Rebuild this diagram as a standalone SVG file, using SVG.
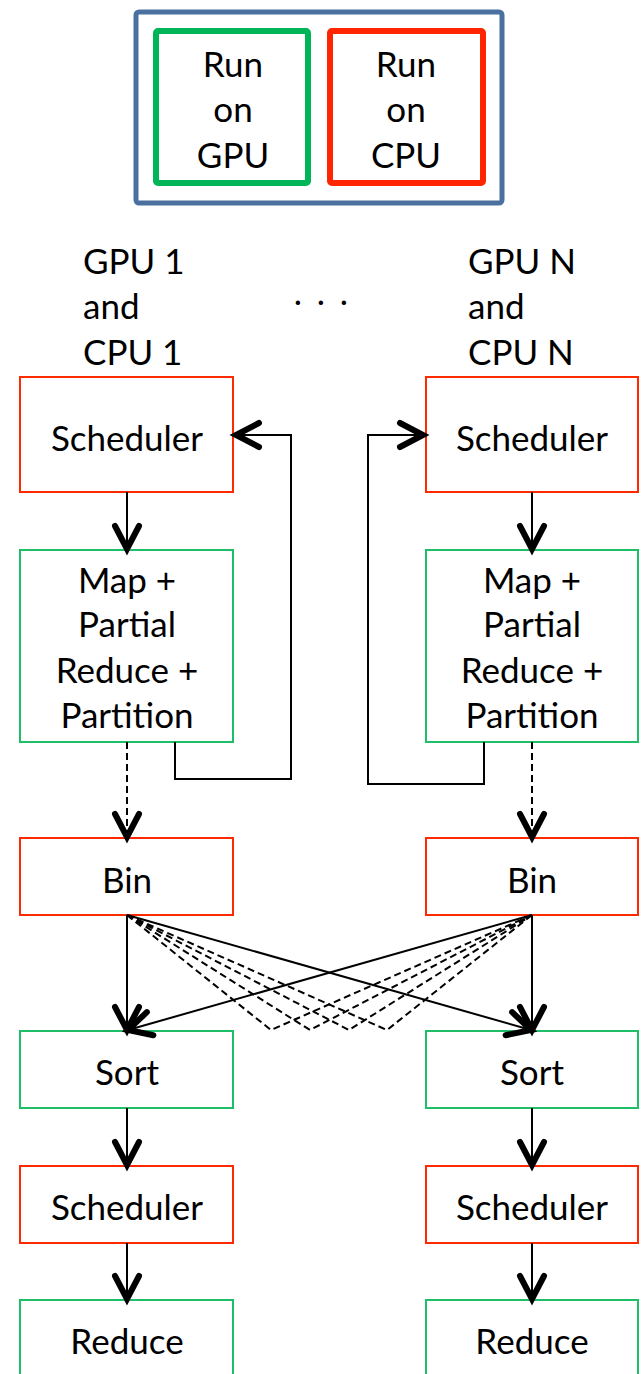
<svg xmlns="http://www.w3.org/2000/svg" width="642" height="1374" viewBox="0 0 642 1374">
  <style>
    text { font-family: Lato, "Liberation Sans", sans-serif; font-size: 35px; fill: #000; }
    .c { text-anchor: middle; }
    .cpu { fill: #fff; stroke: #ff2a00; stroke-width: 2; }
    .gpu { fill: #fff; stroke: #1fbf6a; stroke-width: 2; }
    .line { fill: none; stroke: #000; stroke-width: 2; }
    .dash { fill: none; stroke: #000; stroke-width: 2; stroke-dasharray: 7 4; }
  </style>
  <defs>
    <marker id="head" markerUnits="userSpaceOnUse" viewBox="-30 -16 34 32" refX="0" refY="0" markerWidth="34" markerHeight="32" orient="auto" overflow="visible">
      <path d="M -23 -12 L 0 0 L -23 12" fill="none" stroke="#000" stroke-width="6" stroke-linecap="round" stroke-linejoin="miter"/>
    </marker>
  </defs>

  <rect width="642" height="1374" fill="#fff"/>

  <!-- legend -->
  <g id="legend">
    <rect x="136" y="12" width="366" height="191" rx="3" fill="#fff" stroke="#4a70a0" stroke-width="5"/>
    <rect x="156" y="31" width="152" height="152" rx="2" fill="none" stroke="#00b558" stroke-width="6"/>
    <rect x="330" y="31" width="153" height="152" rx="2" fill="none" stroke="#ff2500" stroke-width="6"/>
    <text class="c" x="233" y="77">Run</text>
    <text class="c" x="233" y="122">on</text>
    <text class="c" x="233" y="168">GPU</text>
    <text class="c" x="406" y="77">Run</text>
    <text class="c" x="406" y="122">on</text>
    <text class="c" x="406" y="168">CPU</text>
  </g>

  <!-- column headings -->
  <g id="label-1">
    <text x="83" y="274">GPU 1</text>
    <text x="83" y="319">and</text>
    <text x="83" y="365">CPU 1</text>
  </g>
  <g id="label-n">
    <text x="468" y="274">GPU N</text>
    <text x="468" y="319">and</text>
    <text x="468" y="365">CPU N</text>
  </g>
  <g id="ellipsis">
    <text class="c" x="298 321 344" y="305">...</text>
  </g>

  <!-- left column -->
  <g id="sched1-1"><rect class="cpu" x="20" y="377" width="213" height="115"/><text class="c" x="127" y="451">Scheduler</text></g>
  <g id="map-1"><rect class="gpu" x="20" y="550" width="213" height="192"/>
    <text class="c" x="127" y="593">Map +</text>
    <text class="c" x="127" y="637">Partial</text>
    <text class="c" x="127" y="683">Reduce +</text>
    <text class="c" x="127" y="728">Partition</text>
  </g>
  <g id="bin-1"><rect class="cpu" x="20" y="838" width="213" height="77"/><text class="c" x="127" y="893">Bin</text></g>
  <g id="sort-1"><rect class="gpu" x="20" y="1031" width="213" height="77"/><text class="c" x="127" y="1085">Sort</text></g>
  <g id="sched2-1"><rect class="cpu" x="20" y="1166" width="213" height="77"/><text class="c" x="127" y="1220">Scheduler</text></g>
  <g id="reduce-1"><rect class="gpu" x="20" y="1300" width="213" height="90"/><text class="c" x="127" y="1354">Reduce</text></g>

  <!-- right column -->
  <g id="sched1-n"><rect class="cpu" x="426" y="377" width="212" height="115"/><text class="c" x="532" y="451">Scheduler</text></g>
  <g id="map-n"><rect class="gpu" x="426" y="550" width="212" height="192"/>
    <text class="c" x="532" y="593">Map +</text>
    <text class="c" x="532" y="637">Partial</text>
    <text class="c" x="532" y="683">Reduce +</text>
    <text class="c" x="532" y="728">Partition</text>
  </g>
  <g id="bin-n"><rect class="cpu" x="426" y="838" width="212" height="77"/><text class="c" x="532" y="893">Bin</text></g>
  <g id="sort-n"><rect class="gpu" x="426" y="1031" width="212" height="77"/><text class="c" x="532" y="1085">Sort</text></g>
  <g id="sched2-n"><rect class="cpu" x="426" y="1166" width="212" height="77"/><text class="c" x="532" y="1220">Scheduler</text></g>
  <g id="reduce-n"><rect class="gpu" x="426" y="1300" width="212" height="90"/><text class="c" x="532" y="1354">Reduce</text></g>

  <!-- connectors -->
  <g id="connectors">
    <!-- scheduler to map -->
    <path class="line" d="M127 492 V549" marker-end="url(#head)"/>
    <path class="line" d="M532 492 V549" marker-end="url(#head)"/>
    <!-- feedback loops back to the scheduler -->
    <path class="line" d="M175 742 V779 H291 V435 H236" marker-end="url(#head)"/>
    <path class="line" d="M484 742 V784 H368 V435 H423" marker-end="url(#head)"/>
    <!-- map to bin -->
    <path class="dash" d="M127 742 V837" marker-end="url(#head)"/>
    <path class="dash" d="M532 742 V837" marker-end="url(#head)"/>
    <!-- bin fan-out -->
    <path class="dash" d="M127 915 L271 1030 L532 915"/>
    <path class="dash" d="M127 915 L310 1030 L532 915"/>
    <path class="dash" d="M127 915 L349 1030 L532 915"/>
    <path class="dash" d="M127 915 L387 1030 L532 915"/>
    <path class="line" d="M127 915 V1030" marker-end="url(#head)"/>
    <path class="line" d="M532 915 V1030" marker-end="url(#head)"/>
    <path class="line" d="M127 915 L531 1030" marker-end="url(#head)"/>
    <path class="line" d="M532 915 L128 1030" marker-end="url(#head)"/>
    <!-- sort to scheduler to reduce -->
    <path class="line" d="M127 1108 V1165" marker-end="url(#head)"/>
    <path class="line" d="M532 1108 V1165" marker-end="url(#head)"/>
    <path class="line" d="M127 1243 V1299" marker-end="url(#head)"/>
    <path class="line" d="M532 1243 V1299" marker-end="url(#head)"/>
  </g>
</svg>
